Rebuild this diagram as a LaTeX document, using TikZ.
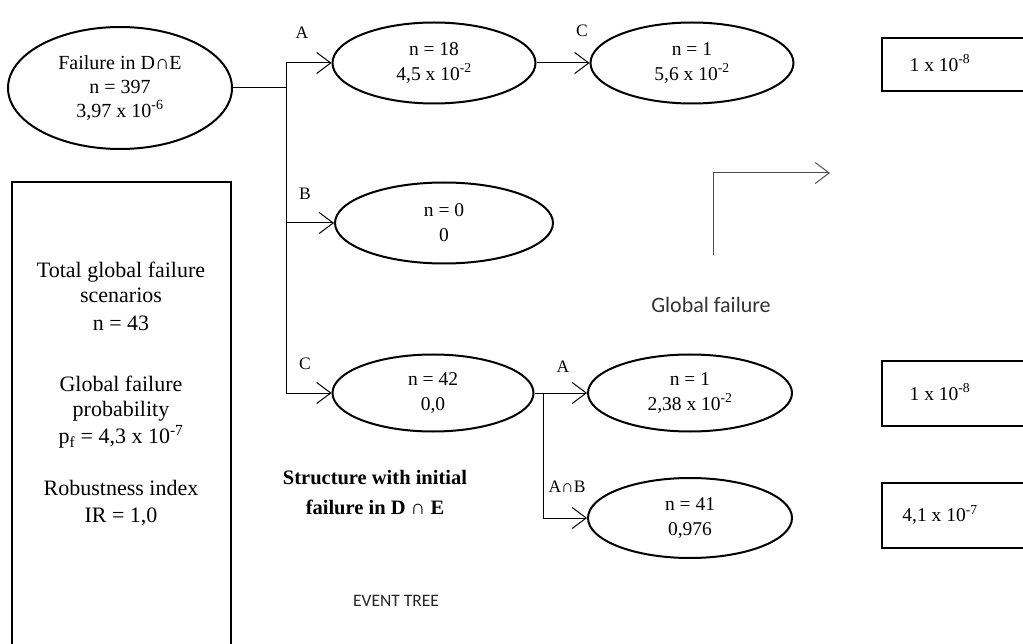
\documentclass[tikz,border=0pt]{standalone}
\usepackage{fontspec}
\setmainfont{Liberation Serif}
\newfontfamily\calfont{Carlito}
\usetikzlibrary{shapes.geometric,arrows.meta}
\begin{document}
\begin{tikzpicture}[x=1pt,y=-1pt,
  ev/.style={ellipse,draw,line width=2pt,inner sep=0pt,align=center,
    font=\fontsize{19.5}{25}\selectfont},
  res/.style={draw,line width=2pt,rectangle,inner sep=0pt},
  txt/.style={inner sep=0pt,align=center,font=\fontsize{19.5}{25}\selectfont},
  boxtxt/.style={inner sep=0pt,align=center,font=\fontsize{22}{25}\selectfont},
  conn/.style={line width=1pt},
  arr/.style={conn,-{Straight Barb[length=14pt,width=21pt,line width=1pt]}},
  lbl/.style={inner sep=0pt,font=\fontsize{17.5}{20}\selectfont}]
\useasboundingbox (0,0) rectangle (1023,644);
% event nodes
\node[ev,minimum width=224pt,minimum height=122pt,font=\fontsize{20}{24}\selectfont] (e0) at (120,88)
  {Failure in D∩E\\n = 397\\3,97 x 10\textsuperscript{-6}};
\node[ev,minimum width=203pt,minimum height=81pt] (eA) at (434,63)
  {n = 18\\4,5 x 10\textsuperscript{-2}};
\node[ev,minimum width=203pt,minimum height=81pt] (eAC) at (692,63)
  {n = 1\\5,6 x 10\textsuperscript{-2}};
\node[ev,minimum width=218pt,minimum height=81pt] (eB) at (444,223)
  {n = 0\\0};
\node[ev,minimum width=201pt,minimum height=77pt] (eC) at (433,393)
  {n = 42\\0,0};
\node[ev,minimum width=204pt,minimum height=77pt] (eCA) at (690,393)
  {n = 1\\2,38 x 10\textsuperscript{-2}};
\node[ev,minimum width=204pt,minimum height=80pt] (eCAB) at (690,518)
  {n = 41\\0,976};
% connectors
\coordinate (j1) at (286,88);
\coordinate (j2) at (543,393);
\draw[conn] (e0.east) -- (j1);
\draw[arr] (j1) |- (eA.west);
\draw[arr] (j1) |- (eB.west);
\draw[arr] (j1) |- (eC.west);
\draw[arr] (eA.east) -- (eAC.west);
\draw[conn] (eC.east) -- (j2);
\draw[arr] (j2) -- (eCA.west);
\draw[arr] (j2) |- (eCAB.west);
% branch labels
\node[lbl] (lA) at (302,33) {A};
\node[lbl] (lC1) at (582,31) {C};
\node[lbl] (lB) at (305,194) {B};
\node[lbl] (lC2) at (305,364) {C};
\node[lbl] (lA2) at (563,367) {A};
\node[lbl] (lAB) at (567,487) {A∩B};
% result boxes
\node[res,minimum width=160pt,minimum height=53pt] (r1) at (962,64.5) {};
\node[txt] (r1t) at (940,63) {1 x 10\textsuperscript{-8}};
\node[res,minimum width=160pt,minimum height=64pt] (r2) at (962,393.5) {};
\node[txt] (r2t) at (940,392) {1 x 10\textsuperscript{-8}};
\node[res,minimum width=160pt,minimum height=65pt] (r3) at (962,515.5) {};
\node[txt] (r3t) at (940,515) {4,1 x 10\textsuperscript{-7}};
% summary box
\node[res,minimum width=219pt,minimum height=480pt] (sum) at (121.5,422) {};
\node[boxtxt] (s1) at (121,282) {Total global failure\\scenarios};
\node[boxtxt] (s2) at (121,323) {n = 43};
\node[boxtxt] (s3) at (121,399) {Global failure\\probability};
\node[boxtxt] (s4) at (121,437) {p\textsubscript{f} = 4,3 x 10\textsuperscript{-7}};
\node[boxtxt] (s5) at (121,488) {Robustness index};
\node[boxtxt] (s6) at (121,517) {IR = 1,0};
% global failure marker
\coordinate (g0) at (713,255);
\coordinate (g1) at (830,173);
\draw[arr,draw=black!70] (g0) |- (g1);
\node[inner sep=0pt,text=black!80,font=\calfont\fontsize{22}{26}\selectfont] (gf) at (711,305) {Global failure};
% captions
\node[inner sep=0pt,align=center,font=\bfseries\fontsize{20.5}{30}\selectfont] (cap) at (375,493)
  {Structure with initial\\failure in D ∩ E};
\node[inner sep=0pt,text=black!85,font=\calfont\fontsize{17.5}{20}\selectfont] (et) at (396,601) {EVENT TREE};
\end{tikzpicture}
\end{document}
